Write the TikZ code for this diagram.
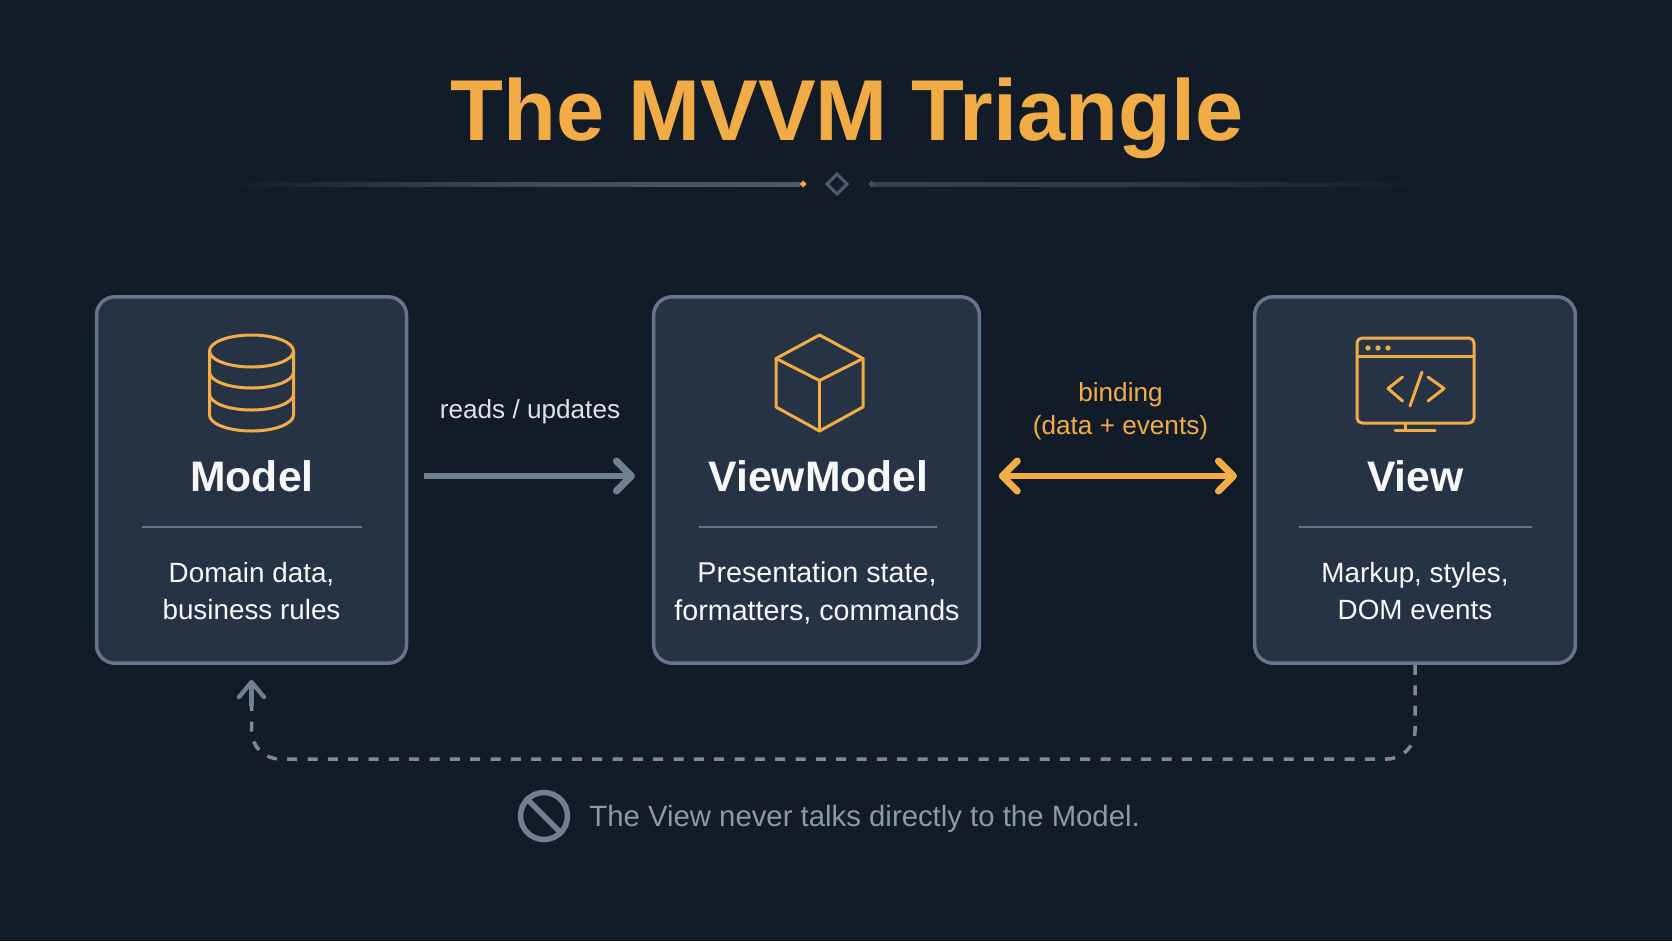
\documentclass[tikz,border=0pt]{standalone}
\usepackage{fontspec}
\setmainfont{Liberation Sans}
\usetikzlibrary{positioning, calc, arrows.meta}

\definecolor{pagebg}{HTML}{121C29}
\definecolor{cardbg}{HTML}{253345}
\definecolor{cardline}{HTML}{66768A}
\definecolor{accent}{HTML}{F2AC45}
\definecolor{softwhite}{HTML}{F6F8FA}
\definecolor{flowgray}{HTML}{6F8091}
\definecolor{dashgray}{HTML}{7C8997}
\definecolor{notegray}{HTML}{8C99A6}
\definecolor{rulegray}{HTML}{4C5A69}

\tikzset{
	card/.style={draw=cardline, fill=cardbg, line width=2.1pt, rounded corners=11pt, minimum height=219.8pt, inner sep=0pt},
	cardtitle/.style={text=softwhite, anchor=base, inner sep=0pt, font=\bfseries\fontsize{25.6}{30}\selectfont},
	carddesc/.style={text=softwhite, align=center, inner sep=0pt, font=\fontsize{16.7}{22.5}\selectfont},
	edgelabel/.style={align=center, inner sep=0pt, font=\fontsize{15.7}{20}\selectfont},
	icon/.style={draw=accent, line width=1.8pt, line join=round, line cap=round},
	divider/.style={draw=cardline, line width=1.5pt},
	bigarrow/.style={line width=3.6pt, -{Straight Barb[length=9pt, width=18pt, line width=4.2pt, round]}}
}

\begin{document}
\begin{tikzpicture}[x=0.6pt, y=-0.6pt]
	\useasboundingbox (0,0) rectangle (1672,941);
	\fill[pagebg] (0,0) rectangle (1672,941);

	% title and its rule
	\node[text=accent, anchor=base, inner sep=0pt, font=\bfseries\fontsize{51.9}{60}\selectfont] (title) at (847,140) {The MVVM Triangle};
	\shade[left color=pagebg, right color=rulegray, middle color=rulegray!75!pagebg] (230,182) rectangle (800,186);
	\shade[left color=rulegray!60!pagebg, right color=pagebg, middle color=rulegray!45!pagebg] (873,182) rectangle (1424,186);
	\fill[accent] (803,180.5) -- (806.5,184) -- (803,187.5) -- (799.5,184) -- cycle;
	\fill[rulegray!80!pagebg] (871.5,180.5) -- (875,184) -- (871.5,187.5) -- (868,184) -- cycle;
	\draw[rulegray, line width=1.9pt] (837,174) -- (847,184) -- (837,194) -- (827,184) -- cycle;

	% the three cards
	\node[card, minimum width=186pt] (model) at (251.5,480) {};
	\node[card, minimum width=195.4pt] (viewmodel) at (816.5,480) {};
	\node[card, minimum width=192.4pt] (view) at (1415,480) {};

	\node[cardtitle] (modeltitle) at (252,491.5) {Model};
	\node[cardtitle] (viewmodeltitle) at (818.5,491.5) {ViewModel};
	\node[cardtitle] (viewtitle) at (1415.5,491.5) {View};

	\draw[divider] (141.5,527) -- (362,527);
	\draw[divider] (699,527) -- (936.5,527);
	\draw[divider] (1299,527) -- (1532,527);

	\node[carddesc] (modeldesc) at (251.5,591) {Domain data,\\business rules};
	\node[carddesc, font=\fontsize{17.2}{22.5}\selectfont] (viewmodeldesc) at (817,593) {Presentation state,\\formatters, commands};
	\node[carddesc] (viewdesc) at (1415,591) {Markup, styles,\\DOM events};

	% database icon
	\draw[icon] (251.5,351) ellipse [x radius=42, y radius=16];
	\draw[icon] (209.5,351) -- (209.5,415) arc [start angle=180, end angle=0, x radius=42, y radius=16] -- (293.5,351);
	\foreach \y in {372,394} {
		\draw[icon] (209.5,\y) arc [start angle=180, end angle=0, x radius=42, y radius=16];
	}

	% cube icon
	\draw[icon] (819.5,335) -- (863,358.5) -- (863,407) -- (819.5,431) -- (776,407) -- (776,358.5) -- cycle;
	\draw[icon] (776,358.5) -- (819.5,380.5) -- (863,358.5);
	\draw[icon] (819.5,380.5) -- (819.5,431);

	% browser icon
	\draw[icon, rounded corners=3pt] (1357,338) rectangle (1474,423);
	\draw[icon] (1357,356.5) -- (1474,356.5);
	\foreach \x in {1368,1378,1388} {
		\fill[accent] (\x,348) circle (1.6pt);
	}
	\draw[icon] (1402.5,377) -- (1388,388.5) -- (1402.5,401);
	\draw[icon] (1422,372) -- (1410,406);
	\draw[icon] (1428,377) -- (1444,388.5) -- (1428,401);
	\draw[icon] (1405,423) -- (1405,430);
	\draw[icon] (1395,430) -- (1435,430);

	% connectors between the cards
	\draw[flowgray, bigarrow, shorten <=9.6pt, shorten >=10.2pt] ([yshift=2.4pt]model.east) -- ([yshift=2.4pt]viewmodel.west);
	\node[edgelabel, text=softwhite!90!pagebg, anchor=base] (readslabel) at (530,418) {reads / updates};

	\draw[accent, line width=3.4pt, {Straight Barb[length=9pt, width=18pt, line width=4.2pt, round]}-{Straight Barb[length=9pt, width=18pt, line width=4.2pt, round]}, shorten <=10.6pt, shorten >=9.6pt] ([yshift=2.4pt]viewmodel.east) -- ([yshift=2.4pt]view.west);
	\node[edgelabel, text=accent] (bindinglabel) at (1120.5,411.5) {binding\\(data + events)};

	% dashed way back
	\coordinate (backlane) at (0,759);
	\coordinate (backend) at (model.south |- 0,706);
	\draw[dashgray, line width=2.1pt, dash pattern=on 6pt off 6.2pt, rounded corners=17pt] (view.south) |- (backlane -| model.south) -- (backend);
	\draw[flowgray, line width=2.6pt, shorten >=9pt, -{Straight Barb[length=9pt, width=15pt, line width=2.6pt, round]}] (backend) -- (model.south);

	% note
	\node[circle, draw=flowgray, line width=3.3pt, minimum size=28.2pt, inner sep=0pt] (ban) at (544,816) {};
	\draw[flowgray, line width=3.3pt] (ban.135) -- (ban.-45);
	\node[text=notegray, anchor=base west, inner sep=0pt, font=\fontsize{17.6}{21}\selectfont] (note) at (589,826) {The View never talks directly to the Model.};
\end{tikzpicture}
\end{document}
